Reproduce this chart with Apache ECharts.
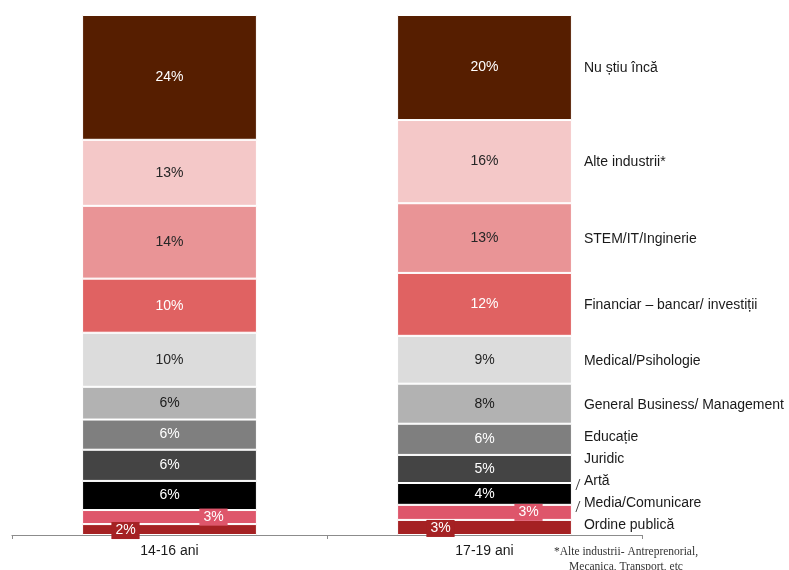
<!DOCTYPE html>
<html>
<head>
<meta charset="utf-8">
<script src="https://cdn.jsdelivr.net/npm/echarts@6/dist/echarts.min.js"></script>
<style>html,body{margin:0;padding:0;background:#fff}#c{width:789px;height:570px}</style>
</head>
<body>
<div id="c"></div>
<script>
// Age groups (x-axis categories)
const groups = ['14-16 ani', '17-19 ani'];
// Career categories, bottom of stack to top
const careers = ['Ordine publică', 'Media/Comunicare', 'Artă', 'Juridic', 'Educație',
  'General Business/ Management', 'Medical/Psihologie', 'Financiar – bancar/ investiții',
  'STEM/IT/Inginerie', 'Alte industrii*', 'Nu știu încă'];
// Shares (%) per career, same order as careers
const shares1416 = [2.1, 2.7, 5.6, 6.0, 5.8, 6.3, 10.4, 10.4, 14.0, 12.7, 24.0];
const shares1719 = [2.9, 2.9, 4.2, 5.4, 6.0, 7.7, 9.2, 12.1, 13.4, 16.0, 20.2];
const footnote = ['*Alte industrii- Antreprenorial,', 'Mecanica, Transport, etc'];

const colors = ['#A52123', '#DE566B', '#000000', '#444444', '#7F7F7F', '#B2B2B2',
  '#DCDCDC', '#E06262', '#E99496', '#F4C8C8', '#561E00'];
const labelColors = ['#fff', '#fff', '#fff', '#fff', '#fff', '#1a1a1a',
  '#262626', '#fff', '#262626', '#262626', '#fff'];
const BAR_FRAC = 0.555;
const FONT = '"Liberation Sans", Arial, sans-serif';

const chart = echarts.init(document.getElementById('c'));

const barSeries = careers.map((name, i) => {
  const s = {
    name: name,
    type: 'bar',
    stack: 'total',
    barWidth: (BAR_FRAC * 100) + '%',
    data: [shares1416[i], shares1719[i]],
    itemStyle: { color: colors[i], borderColor: '#fff', borderWidth: 1 },
    label: {
      show: true,
      position: 'inside',
      color: labelColors[i],
      fontSize: 14,
      fontFamily: FONT,
      formatter: p => Math.round(p.value) + '%'
    }
  };
  if (i === 0 || i === 1) {
    s.label.backgroundColor = colors[i];
    s.label.padding = [2, 4, 1, 4];
    s.label.offset = [i === 0 ? -44 : 44, i === 0 ? 1 : 0];
  }
  return s;
});

// right-hand category labels positioned from the stacked values of the 17-19 bar
const cum = [0];
shares1719.forEach((v, i) => cum.push(cum[i] + v));

const labelSeries = {
  type: 'custom',
  clip: false,
  silent: true,
  data: careers.map(() => [1, 0]),
  renderItem: function (params, api) {
    const idx = params.dataIndex;
    const bandW = api.size([1, 0])[0];
    const xc = api.coord([1, 0])[0];
    const xRight = xc + bandW * BAR_FRAC / 2;
    const baseY = api.coord([1, 0])[1];
    let y = 0, segTop = 0, segBot = 0;
    for (let j = 0; j <= idx; j++) {
      const bot = api.coord([1, cum[j]])[1];
      const top = api.coord([1, cum[j + 1]])[1];
      const mid = (bot + top) / 2;
      y = j === 0 ? Math.min(mid, baseY - 11) : Math.min(mid, y - 22);
      segTop = top; segBot = bot;
    }
    const children = [{
      type: 'text',
      x: xRight + 12,
      y: y + 1,
      style: {
        text: careers[idx],
        fill: '#1a1a1a',
        font: '14px ' + FONT,
        align: 'left',
        verticalAlign: 'middle'
      }
    }];
    if (y < segTop || y > segBot) {
      children.push({
        type: 'line',
        shape: { x1: xRight + 4, y1: y + 10, x2: xRight + 8, y2: y - 1 },
        style: { stroke: '#444', lineWidth: 1 }
      });
    }
    return { type: 'group', children: children };
  }
};

chart.setOption({
  animation: false,
  grid: { left: 12, right: 147, top: 15, bottom: 35, containLabel: false },
  xAxis: {
    type: 'category',
    data: groups,
    axisLine: { show: true, lineStyle: { color: '#8c8c8c', width: 1.2 } },
    axisTick: { show: true, length: 4, lineStyle: { color: '#8c8c8c' } },
    axisLabel: { color: '#1a1a1a', fontSize: 14, margin: 9, fontFamily: FONT }
  },
  yAxis: { type: 'value', min: 0, max: 100, show: false },
  series: barSeries.concat([labelSeries]),
  graphic: [{
    type: 'text',
    x: 626,
    y: 544,
    style: {
      text: footnote.join('\n'),
      fill: '#333',
      font: '11.5px "Liberation Serif", "DejaVu Serif", serif',
      align: 'center',
      verticalAlign: 'top',
      lineHeight: 15
    }
  }]
});
</script>
</body>
</html>
